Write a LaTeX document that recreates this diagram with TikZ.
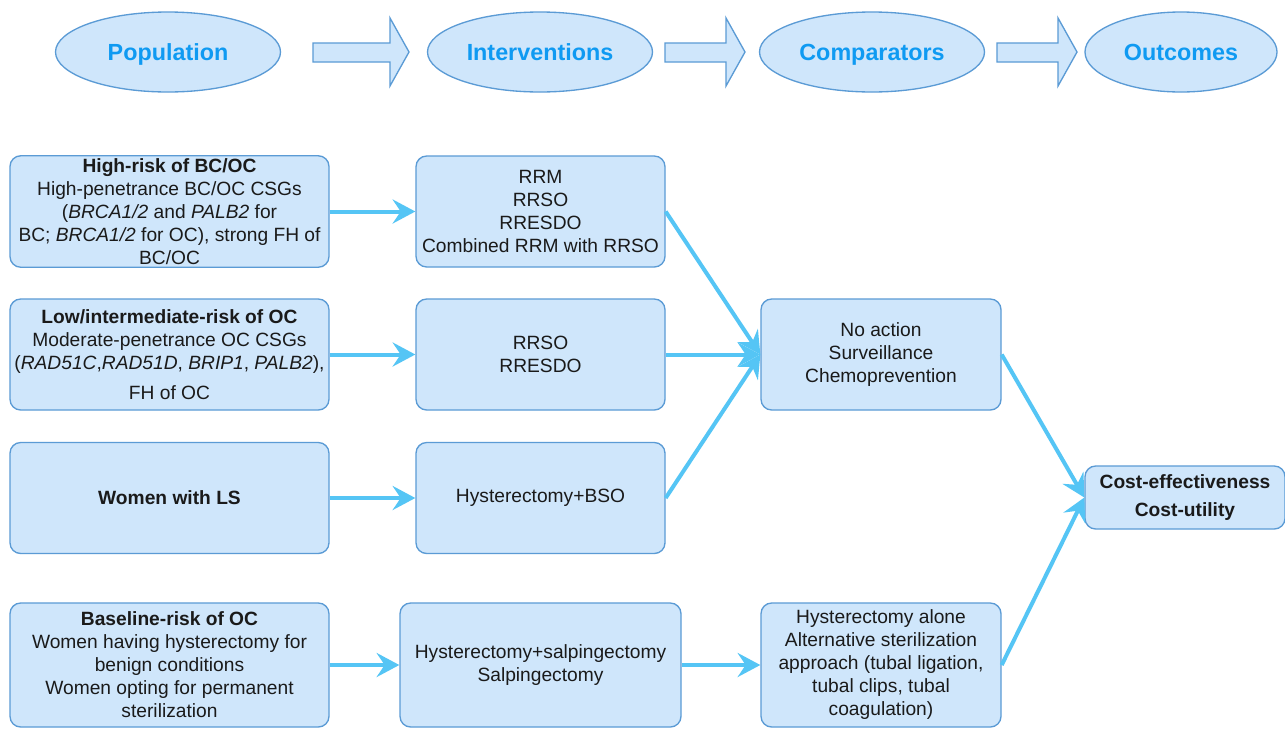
\documentclass[tikz,border=0pt]{standalone}
\usepackage{fontspec}
\setmainfont{Liberation Sans}
\usetikzlibrary{arrows.meta,shapes.geometric}
\definecolor{boxfill}{HTML}{CFE6FB}
\definecolor{boxline}{HTML}{5B9BD5}
\definecolor{arrowc}{HTML}{55C5F5}
\definecolor{headtxt}{HTML}{0F9AF2}
\definecolor{txt}{HTML}{1A1A1A}
\begin{document}
\begin{tikzpicture}[x=0.75pt,y=-0.75pt,
  ell/.style={ellipse,draw=boxline,fill=boxfill,line width=1pt,minimum width=168.75pt,minimum height=60pt,
    font=\fontsize{17.5}{20}\selectfont\bfseries,text=headtxt,text height=14pt,text depth=2pt},
  bx/.style={draw=boxline,fill=boxfill,line width=1pt,rounded corners=8pt,align=center,
    font=\fontsize{14.4}{17.25}\selectfont,text=txt,inner sep=2pt},
  popbox/.style={bx,minimum width=239.25pt,minimum height=83.25pt},
  intbox/.style={bx,minimum width=186.75pt,minimum height=83.25pt},
  compbox/.style={bx,minimum width=180pt,minimum height=83.25pt},
  conn/.style={draw=arrowc,line width=3pt,-{Stealth[length=17pt,width=18pt,inset=6pt]}},
  blockarrow/.style={draw=boxline,fill=boxfill,line width=1pt}]
\useasboundingbox (0,0) rectangle (1285,729);
\fill[white] (0,0) rectangle (1285,729);

% header ellipses
\node[ell] (hpop) at (168,52) {Population};
\node[ell] (hint) at (540,52) {Interventions};
\node[ell] (hcomp) at (872,52) {Comparators};
\node[ell,minimum width=144pt] (hout) at (1181,52) {Outcomes};

% block arrows
\draw[blockarrow] (313,43) -- (390,43) -- (390,18) -- (409,52) -- (390,86) -- (390,62) -- (313,62) -- cycle;
\draw[blockarrow] (665,43) -- (726,43) -- (726,18) -- (745,52) -- (726,86) -- (726,62) -- (665,62) -- cycle;
\draw[blockarrow] (997,43) -- (1058,43) -- (1058,18) -- (1077,52) -- (1058,86) -- (1058,62) -- (997,62) -- cycle;

% population boxes
\node[popbox] (p1) at (169.5,211.5) {\textbf{High-risk of BC/OC}\\High-penetrance BC/OC CSGs\\(\textit{BRCA1/2} and \textit{PALB2} for\\BC; \textit{BRCA1/2} for OC), strong FH of\\BC/OC};
\node[popbox] (p2) at (169.5,354.5) {\textbf{Low/intermediate-risk of OC}\\Moderate-penetrance OC CSGs\\(\textit{RAD51C},\textit{RAD51D}, \textit{BRIP1}, \textit{PALB2}),\\[5pt]FH of OC};
\node[popbox] (p3) at (169.5,498) {\textbf{Women with LS}};
\node[popbox,minimum height=93pt] (p4) at (169.5,665) {\textbf{Baseline-risk of OC}\\Women having hysterectomy for\\benign conditions\\Women opting for permanent\\sterilization};

% intervention boxes
\node[intbox] (i1) at (540.5,211.5) {RRM\\RRSO\\RRESDO\\Combined RRM with RRSO};
\node[intbox] (i2) at (540.5,354.5) {RRSO\\RRESDO};
\node[intbox] (i3) at (540.5,498) {Hysterectomy+BSO};
\node[bx,minimum width=210.75pt,minimum height=93pt] (i4) at (540.5,665) {Hysterectomy+salpingectomy\\Salpingectomy};

% comparator boxes
\node[compbox] (c1) at (881,354.5) {No action\\Surveillance\\Chemoprevention};
\node[compbox,minimum height=93pt] (c2) at (881,665) {Hysterectomy alone\\Alternative sterilization\\approach (tubal ligation,\\tubal clips, tubal\\coagulation)};

% outcome box
\node[bx,minimum width=150pt,minimum height=47.25pt,font=\fontsize{14.4}{21}\selectfont\bfseries] (o) at (1185,497.5) {Cost-effectiveness\\Cost-utility};

% connectors
\draw[conn] (p1.east) -- (i1.west);
\draw[conn] (p2.east) -- (i2.west);
\draw[conn] (p3.east) -- (i3.west);
\draw[conn] (p4.east) -- (i4.west);
\draw[conn] (i4.east) -- (c2.west);
\draw[conn] (i1.east) -- (c1.west);
\draw[conn] (i2.east) -- (c1.west);
\draw[conn] (i3.east) -- (c1.west);
\draw[conn] (c1.east) -- (o.west);
\draw[conn] (c2.east) -- (o.west);
\end{tikzpicture}
\end{document}
